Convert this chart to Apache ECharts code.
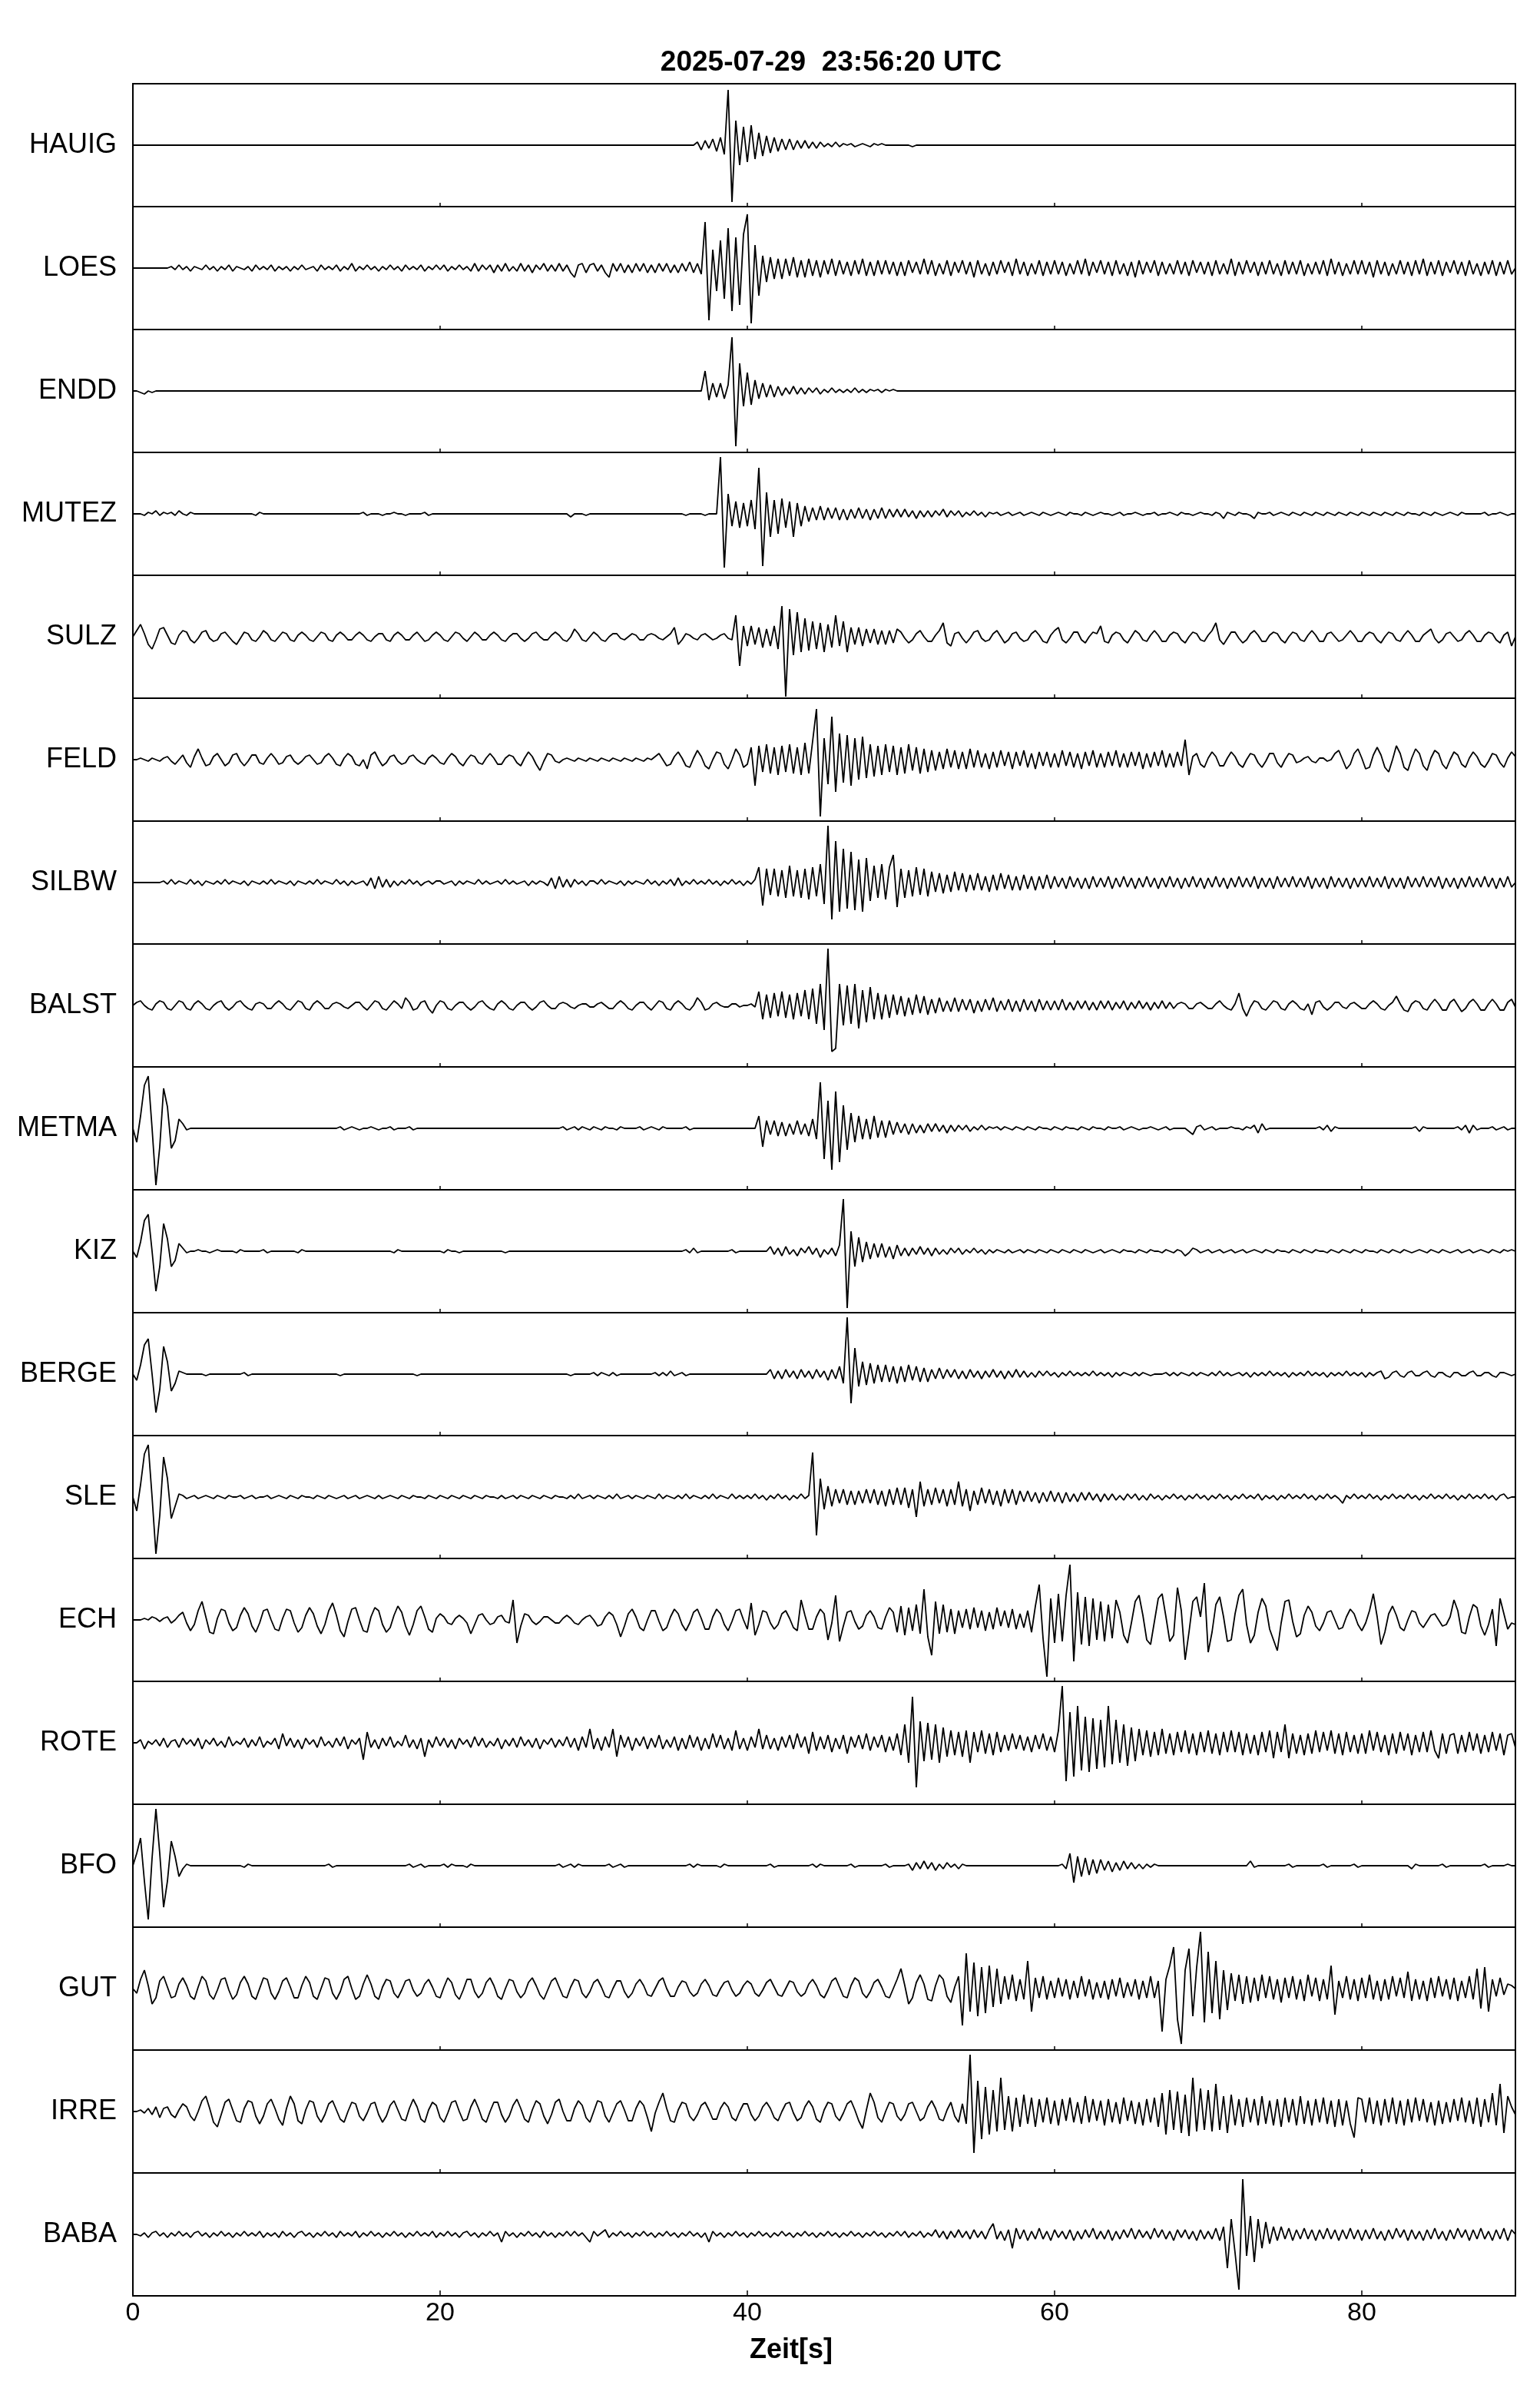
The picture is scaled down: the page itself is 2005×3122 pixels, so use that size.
<!DOCTYPE html>
<html>
<head>
<meta charset="utf-8">
<script src="https://cdn.jsdelivr.net/npm/echarts@6/dist/echarts.min.js"></script>
<style>
html,body{margin:0;padding:0;background:#fff;}
#chart{width:2005px;height:3122px;}
</style>
</head>
<body>
<div id="chart"></div>
<script>
const chartTitle = '2025-07-29  23:56:20 UTC';
const xAxisTitle = 'Zeit[s]';
const stations = ['HAUIG','LOES','ENDD','MUTEZ','SULZ','FELD','SILBW','BALST','METMA','KIZ','BERGE','SLE','ECH','ROTE','BFO','GUT','IRRE','BABA'];
const timeWindow = [0, 90];
const tickLabels = [0, 20, 40, 60, 80];

// amplitudes sampled every 0.25 s, in units of 1/40 of a half panel
const hauig = [
0,0,0,0,0,0,0,0,0,0,0,0,0,0,0,0,0,0,0,0,0,0,0,0,0,0,0,0,0,0,0,0,0,0,0,0,0,0,0,0,
0,0,0,0,0,0,0,0,0,0,0,0,0,0,0,0,0,0,0,0,0,0,0,0,0,0,0,0,0,0,0,0,0,0,0,0,0,0,0,0,
0,0,0,0,0,0,0,0,0,0,0,0,0,0,0,0,0,0,0,0,0,0,0,0,0,0,0,0,0,0,0,0,0,0,0,0,0,0,0,0,
0,0,0,0,0,0,0,0,0,0,0,0,0,0,0,0,0,0,0,0,0,0,0,0,0,0,0,2,-3,3,-2,4,-4,5,-6,36,-37,16,-13,12,
-11,13,-9,8,-7,6,-5,5,-4,4,-3,4,-3,3,-2,3,-2,2,-2,2,-1,1,-1,2,-1,1,0,1,-1,0,1,0,-1,1,0,1,0,0,0,0,
0,0,0,-1,0,0,0,0,0,0,0,0,0,0,0,0,0,0,0,0,0,0,0,0,0,0,0,0,0,0,0,0,0,0,0,0,0,0,0,0,
0,0,0,0,0,0,0,0,0,0,0,0,0,0,0,0,0,0,0,0,0,0,0,0,0,0,0,0,0,0,0,0,0,0,0,0,0,0,0,0,
0,0,0,0,0,0,0,0,0,0,0,0,0,0,0,0,0,0,0,0,0,0,0,0,0,0,0,0,0,0,0,0,0,0,0,0,0,0,0,0,
0,0,0,0,0,0,0,0,0,0,0,0,0,0,0,0,0,0,0,0,0,0,0,0,0,0,0,0,0,0,0,0,0,0,0,0,0,0,0,0,
0];
const loes = [
0,0,0,0,0,0,0,0,0,0,1,-1,2,-1,1,-2,1,0,-1,2,-1,1,-2,1,-1,2,-2,1,0,-1,1,-2,2,-1,1,-1,2,-2,1,-1,
1,-2,1,-1,2,-1,0,1,-2,2,-1,1,-1,2,-2,1,-1,3,-2,1,-1,2,-1,1,-2,1,-1,2,-1,1,-2,2,-1,1,-1,2,-2,1,-1,2,
-1,2,-2,1,-1,2,-1,1,-2,3,-2,2,-1,2,-3,2,-2,3,-2,1,-2,3,-2,2,-3,2,-1,3,-2,2,-2,3,-2,2,-3,-6,2,3,-3,2,
3,-2,2,-3,-6,3,-2,3,-3,2,-3,3,-2,3,-3,2,-3,3,-2,3,-3,2,-3,3,-2,4,-3,3,-4,30,-34,12,-15,18,-20,26,-28,20,-24,22,
35,-36,15,-18,8,-9,7,-7,6,-7,6,-5,7,-6,5,-6,6,-5,5,-6,5,-4,6,-5,5,-4,4,-5,5,-4,6,-5,4,-5,5,-4,5,-4,4,-5,
4,-5,5,-3,4,-4,6,-4,5,-5,3,-4,5,-5,4,-3,5,-4,4,-6,5,-4,3,-5,4,-4,5,-3,4,-5,6,-4,4,-5,3,-4,5,-5,4,-4,
5,-4,4,-5,3,-4,5,-4,6,-5,4,-3,5,-4,4,-5,5,-4,3,-5,4,-6,5,-4,4,-3,5,-5,4,-4,3,-4,5,-4,4,-5,5,-3,4,-4,
4,-5,5,-4,3,-4,6,-5,4,-4,5,-3,4,-5,4,-4,5,-4,3,-5,5,-4,4,-4,5,-5,3,-4,4,-4,5,-5,6,-4,4,-5,3,-4,5,-4,
5,-4,4,-6,5,-4,4,-5,3,-4,5,-4,4,-5,5,-4,6,-5,4,-4,5,-5,4,-3,5,-4,4,-5,5,-4,3,-5,4,-4,5,-5,4,-4,5,-4,
0];
const endd = [
0,0,-1,-2,0,-1,0,0,0,0,0,0,0,0,0,0,0,0,0,0,0,0,0,0,0,0,0,0,0,0,0,0,0,0,0,0,0,0,0,0,
0,0,0,0,0,0,0,0,0,0,0,0,0,0,0,0,0,0,0,0,0,0,0,0,0,0,0,0,0,0,0,0,0,0,0,0,0,0,0,0,
0,0,0,0,0,0,0,0,0,0,0,0,0,0,0,0,0,0,0,0,0,0,0,0,0,0,0,0,0,0,0,0,0,0,0,0,0,0,0,0,
0,0,0,0,0,0,0,0,0,0,0,0,0,0,0,0,0,0,0,0,0,0,0,0,0,0,0,0,0,13,-6,5,-4,5,-5,4,35,-36,18,-10,
12,-9,7,-5,5,-4,4,-4,3,-3,2,-2,3,-2,2,-2,2,-1,2,-2,1,-1,2,-1,1,-1,1,-1,2,-1,1,-1,1,0,1,-1,1,0,1,0,
0,0,0,0,0,0,0,0,0,0,0,0,0,0,0,0,0,0,0,0,0,0,0,0,0,0,0,0,0,0,0,0,0,0,0,0,0,0,0,0,
0,0,0,0,0,0,0,0,0,0,0,0,0,0,0,0,0,0,0,0,0,0,0,0,0,0,0,0,0,0,0,0,0,0,0,0,0,0,0,0,
0,0,0,0,0,0,0,0,0,0,0,0,0,0,0,0,0,0,0,0,0,0,0,0,0,0,0,0,0,0,0,0,0,0,0,0,0,0,0,0,
0,0,0,0,0,0,0,0,0,0,0,0,0,0,0,0,0,0,0,0,0,0,0,0,0,0,0,0,0,0,0,0,0,0,0,0,0,0,0,0,
0];
const mutez = [
0,0,0,-1,1,0,2,-1,1,0,1,-1,2,0,-1,1,0,0,0,0,0,0,0,0,0,0,0,0,0,0,0,0,-1,1,0,0,0,0,0,0,
0,0,0,0,0,0,0,0,0,0,0,0,0,0,0,0,0,0,0,0,1,-1,0,0,0,-1,0,0,1,0,0,-1,0,0,0,0,1,-1,0,0,
0,0,0,0,0,0,0,0,0,0,0,0,0,0,0,0,0,0,0,0,0,0,0,0,0,0,0,0,0,0,0,0,0,0,-2,0,0,0,-1,0,
0,0,0,0,0,0,0,0,0,0,0,0,0,0,0,0,0,0,0,0,0,0,0,0,-1,0,0,0,0,-1,0,0,0,37,-35,13,-8,8,-9,7,
-8,9,-10,30,-34,14,-15,9,-13,10,-9,8,-15,7,-8,5,-5,4,-4,5,-4,4,-3,4,-4,3,-4,3,-3,4,-3,3,-4,3,-3,4,-3,3,-2,3,
-2,3,-2,2,-3,2,-2,2,-2,2,-1,3,-2,2,-1,2,-2,1,-1,2,-1,1,-2,1,0,1,-1,0,1,-1,0,1,-1,0,1,0,-1,1,0,-1,
0,1,0,-1,1,0,0,-1,1,0,-1,0,1,0,0,-1,0,1,-1,0,0,1,0,-1,0,0,1,-1,0,0,1,0,-1,1,0,0,-1,0,1,0,
0,-1,1,0,-3,1,0,-1,1,0,0,-1,-3,1,0,0,1,-1,0,1,0,-1,1,0,-1,1,0,-1,1,0,-1,1,0,-1,1,0,-1,1,0,-1,
1,0,-1,1,0,-1,1,0,-1,1,0,-1,1,0,0,-1,1,0,-1,1,0,-1,0,1,0,-1,1,0,0,0,0,0,1,-1,0,0,1,0,-1,0,
0];
const sulz = [
0,4,8,2,-5,-8,-2,5,6,1,-4,-5,1,4,3,-2,-4,-1,3,4,-1,-3,-2,2,3,0,-3,-5,-1,3,2,-2,-3,0,4,2,-2,-3,0,3,
2,-2,-3,1,3,1,-2,-3,0,3,2,-2,-3,1,3,1,-2,-2,1,3,1,-2,-3,0,2,2,-2,-3,1,3,1,-2,-2,1,3,0,-3,-2,1,3,
1,-2,-3,0,3,2,-1,-3,0,3,1,-2,-2,1,3,1,-2,-3,0,2,2,-1,-3,-1,2,3,0,-2,-2,1,3,1,-2,-3,0,5,2,-2,-3,0,
3,1,-2,-3,0,2,2,-1,-2,0,2,1,-2,-2,1,2,1,-1,-2,0,2,6,-5,-2,2,1,-1,-2,1,2,0,-2,-1,1,2,-1,-2,14,-19,7,
-6,7,-5,6,-7,5,-6,7,-8,20,-39,18,-12,16,-10,12,-9,10,-8,9,-10,8,-7,14,-6,10,-10,6,-5,6,-6,5,-4,5,-5,4,-5,4,-4,5,
3,-1,-4,-2,2,4,0,-3,-3,1,4,9,-4,-6,2,3,-1,-4,-1,3,4,-1,-3,-2,2,4,0,-4,-2,2,3,-1,-3,-2,2,4,1,-3,-4,1,
4,6,-2,-4,-1,3,3,-2,-4,0,3,2,7,-3,-4,1,3,2,-2,-4,0,4,2,-2,-3,1,4,1,-3,-3,1,3,2,-2,-4,0,3,2,-2,-3,
1,4,9,-2,-5,-1,3,3,-1,-4,-2,2,4,1,-3,-3,1,3,2,-2,-4,0,3,2,-2,-3,1,4,1,-3,-3,2,3,0,-3,-2,1,4,1,-3,
-3,1,3,2,-2,-4,0,3,2,-2,-3,1,4,1,-3,-3,1,3,5,-1,-4,-2,2,3,0,-3,-2,2,4,1,-3,-3,1,3,2,-2,-4,1,3,-6,
0];
const feld = [
0,0,1,0,-1,1,0,-1,1,2,-1,-3,0,3,-2,-5,2,7,1,-4,-3,2,4,0,-4,-2,3,4,-1,-4,-1,3,3,-2,-3,1,4,1,-3,-2,
2,3,-1,-3,-1,2,3,0,-3,-2,2,4,1,-3,-4,1,4,2,-3,-4,0,-6,3,5,0,-4,-2,2,3,-1,-3,-2,2,3,0,-2,-3,1,3,1,
-2,-3,1,4,2,-2,-4,0,3,2,-2,-3,1,4,1,-3,-3,1,3,2,-2,-4,1,5,2,-3,-7,-1,4,3,-1,-2,0,1,0,-1,1,0,-1,1,
0,-1,1,0,-1,1,0,-1,1,0,-1,1,0,-1,1,0,2,4,0,-4,-3,2,5,1,-4,-5,1,6,2,-4,-6,0,5,4,-3,-6,0,7,3,-5,
-3,8,-17,9,-8,10,-9,8,-10,9,-8,10,-9,8,-10,11,-9,12,33,-37,14,-16,28,-21,17,-15,16,-17,14,-13,15,-12,10,-11,9,-10,10,-8,9,-10,
8,-9,10,-7,8,-9,7,-8,6,-7,5,-6,7,-5,6,-6,5,-6,7,-5,6,-5,4,-6,5,-5,6,-4,5,-6,5,-4,6,-5,4,-6,5,-4,5,-5,
4,-5,6,-4,5,-5,4,-6,5,-4,6,-5,4,-5,5,-4,6,-5,4,-5,5,-4,5,-6,4,-5,5,-4,6,-5,4,-5,5,-4,13,-10,2,4,-3,-5,
1,5,2,-4,-4,1,5,2,-3,-5,0,4,3,-2,-5,-1,4,4,-2,-5,0,4,3,-2,-1,1,2,-1,-2,1,1,-1,0,4,6,0,-6,-3,4,7,
1,-6,-5,3,8,3,-5,-8,0,9,4,-5,-7,1,7,4,-4,-7,1,6,4,-3,-6,0,5,3,-3,-5,1,5,2,-3,-5,-1,4,3,-2,-5,1,5,
2];
const silbw = [
0,0,0,0,0,0,0,0,1,-1,2,-1,1,0,-1,2,-1,1,-2,1,0,-1,1,-1,2,-1,1,0,-1,1,-2,1,0,-1,1,-1,2,-1,1,0,
-1,1,-2,1,0,-1,1,-1,2,-1,1,0,-1,2,-1,1,-2,1,-1,0,1,-2,3,-4,4,-3,2,-3,1,-2,1,-1,2,-1,1,-2,0,1,-1,1,
1,-1,0,1,-2,1,-1,1,0,-1,2,-1,1,-1,0,1,-1,2,-1,1,-1,0,1,-2,1,-1,1,0,-2,3,-4,4,-3,2,-3,2,-1,1,-2,1,
1,-1,2,-1,1,0,-1,1,-2,1,-1,1,0,-1,2,-1,1,-2,1,-1,2,-2,3,-2,1,-1,2,-1,1,-1,2,-1,1,-2,1,-1,2,-1,1,-2,
1,-1,2,10,-15,9,-8,9,-9,8,-10,11,-9,8,-10,9,-11,10,-9,12,-14,37,-24,27,-19,22,-17,20,-18,15,-19,16,-12,11,-10,12,-11,10,18,-16,
9,-10,8,-9,10,-8,9,-9,7,-6,6,-7,5,-6,7,-5,6,-6,5,-5,6,-5,4,-6,5,-5,6,-4,5,-5,4,-5,5,-4,4,-5,4,-4,5,-4,
4,-3,3,-4,4,-3,3,-4,3,-4,4,-3,3,-3,4,-4,3,-3,4,-3,3,-4,3,-3,4,-3,3,-4,3,-3,4,-3,3,-4,3,-3,4,-3,3,-4,
3,-3,4,-3,3,-4,3,-3,4,-3,3,-3,4,-4,3,-3,3,-4,4,-3,3,-3,4,-3,3,-3,4,-4,3,-3,3,-4,4,-3,3,-3,3,-4,3,-3,
3,-3,4,-3,3,-3,4,-4,3,-3,3,-4,4,-3,3,-3,4,-3,3,-3,4,-4,3,-3,3,-4,3,-3,4,-3,3,-3,4,-3,3,-4,3,-3,4,-3,
0];
const balst = [
0,2,3,0,-2,-3,1,3,2,-2,-3,0,3,2,-2,-3,1,3,1,-2,-3,0,2,3,-1,-3,-1,2,3,0,-2,-3,1,2,1,-2,-2,1,3,1,
-2,-3,0,3,2,-2,-3,1,3,1,-2,-2,1,2,1,-1,-2,0,2,2,-1,-3,0,3,2,-2,-3,0,3,1,-2,5,2,-3,-2,2,3,-2,-5,0,
3,2,-2,-3,0,2,2,-1,-3,-1,2,3,0,-2,-3,1,3,1,-2,-3,0,2,2,-1,-3,-1,2,3,0,-2,-2,1,2,1,-1,-2,0,1,1,-1,
-1,1,2,0,-2,-2,1,3,1,-2,-3,0,2,2,-1,-3,0,3,2,-2,-3,1,3,1,-2,-3,0,5,2,-3,-2,1,2,0,-1,-1,1,1,-1,0,
0,1,-1,9,-9,7,-8,8,-7,9,-8,7,-9,8,-7,10,-9,11,-12,14,-16,37,-30,-28,14,-13,13,-12,14,-15,10,-11,12,-9,8,-9,7,-8,7,-6,
6,-7,5,-6,7,-5,6,-6,4,-5,5,-4,3,-4,5,-4,4,-3,4,-5,3,-4,4,-3,5,-4,3,-3,4,-4,3,-4,4,-3,3,-4,4,-3,3,-3,
3,-3,4,-3,2,-3,3,-2,3,-3,2,-3,3,-2,3,-3,2,-2,3,-3,2,-2,3,-2,2,-3,2,-2,3,-2,2,-2,1,2,1,-2,-2,1,2,0,
-2,-2,1,3,0,-2,-3,1,8,-2,-7,-1,3,2,-2,-3,0,3,2,-2,-3,1,3,1,-2,-3,1,-6,2,3,-1,-3,-1,2,2,-1,-2,1,2,0,
-2,-2,1,3,1,-2,-3,0,2,6,1,-3,-4,1,3,2,-2,-3,1,4,1,-3,-3,2,4,0,-4,-2,2,4,1,-3,-3,1,4,1,-3,-3,2,4,
-1];
const metma = [
0,-9,8,28,34,0,-37,-12,26,14,-13,-8,6,3,-1,0,0,0,0,0,0,0,0,0,0,0,0,0,0,0,0,0,0,0,0,0,0,0,0,0,
0,0,0,0,0,0,0,0,0,0,0,0,0,0,1,-1,0,1,0,-1,0,0,1,0,-1,0,0,1,-1,0,0,0,1,-1,0,0,0,0,0,0,
0,0,0,0,0,0,0,0,0,0,0,0,0,0,0,0,0,0,0,0,0,0,0,0,0,0,0,0,0,0,0,0,1,-1,0,1,-1,1,0,-1,
1,0,-1,1,0,0,-1,1,0,0,0,0,1,-1,0,1,0,-1,1,0,0,0,0,0,1,-1,0,0,0,0,0,0,0,0,0,0,0,0,0,0,
0,0,0,8,-12,5,-4,5,-5,4,-5,3,-4,5,-4,3,-5,6,-7,30,-20,18,-27,24,-22,15,-14,10,-9,8,-7,6,-7,8,-6,5,-6,5,-4,4,
-3,3,-4,3,-3,2,-3,3,-2,3,-2,2,-3,2,-2,2,-1,2,-2,1,-1,2,-1,1,0,1,-1,1,0,-1,1,0,-1,1,0,-1,1,0,0,-1,
1,0,-1,1,0,0,-1,1,0,-1,1,0,0,-1,1,0,0,1,-1,0,1,0,-1,0,0,1,0,-1,0,1,-1,0,0,0,0,-2,-4,1,2,-1,
0,1,-1,0,0,0,1,0,0,-1,1,0,2,-3,3,-1,0,0,0,0,0,0,0,0,0,0,0,0,0,1,-1,2,-2,1,0,0,0,0,0,0,
0,0,0,0,0,0,0,0,0,0,0,0,0,0,1,-2,1,0,0,0,0,0,0,0,0,1,-1,2,-3,2,-1,0,0,0,1,-1,0,1,-1,0,
0];
const kiz = [
0,-4,6,20,24,0,-26,-10,18,8,-10,-6,5,2,-1,0,0,1,0,0,-1,0,1,0,0,0,0,-1,1,0,0,0,0,0,1,-1,0,0,0,0,
0,0,0,-1,1,0,0,0,0,0,0,0,0,0,0,0,0,0,0,0,0,0,0,0,0,0,0,0,-1,1,0,0,0,0,0,0,0,0,0,0,
0,-1,1,0,0,-1,0,0,0,0,0,0,0,0,0,0,0,-1,0,0,0,0,0,0,0,0,0,0,0,0,0,0,0,0,0,0,0,0,0,0,
0,0,0,0,0,0,0,0,0,0,0,0,0,0,0,0,0,0,0,0,0,0,0,0,1,-1,2,-1,0,0,0,0,0,0,0,0,1,-1,0,0,
0,0,0,0,0,0,3,-2,2,-3,3,-2,1,-3,2,-1,3,-2,2,-4,1,-2,2,-3,4,34,-37,13,-10,9,-7,6,-5,5,-4,5,-4,3,-5,4,
-3,2,-3,2,-2,3,-2,2,-3,2,-2,1,-2,2,-1,2,-2,1,-1,2,-1,1,-2,1,-1,1,0,-1,1,-1,0,1,-1,1,0,-1,1,0,-1,1,
0,-1,1,0,-1,1,0,-1,1,0,-1,0,1,-1,0,1,0,-1,1,0,0,-1,1,0,-1,1,0,0,-1,1,0,-1,1,0,-3,-1,2,1,-1,0,
1,-1,0,1,-1,0,1,-1,0,1,-1,0,1,0,-1,1,0,-1,1,0,0,-1,1,0,-1,1,0,-1,1,0,0,-1,1,0,-1,1,0,-1,1,0,
-1,1,0,0,-1,1,0,-1,1,0,-1,1,0,-1,0,1,0,-1,1,0,-1,1,0,-1,0,1,-1,0,1,-1,0,1,0,-1,1,0,-1,1,0,1,
0];
const berge = [
0,-4,6,19,23,0,-25,-10,18,8,-11,-6,2,1,0,0,0,0,0,-1,0,0,0,0,0,0,0,0,0,1,-1,0,0,0,0,0,0,0,0,0,
0,0,0,0,0,0,0,0,0,0,0,0,0,0,-1,0,0,0,0,0,0,0,0,0,0,0,0,0,0,0,0,0,0,0,-1,0,0,0,0,0,
0,0,0,0,0,0,0,0,0,0,0,0,0,0,0,0,0,0,0,0,0,0,0,0,0,0,0,0,0,0,0,0,0,0,-1,0,0,0,0,0,
1,-1,1,0,-1,1,-1,0,0,0,0,0,0,0,0,0,1,-1,1,-1,2,-1,0,1,-1,0,0,0,0,0,0,0,0,0,0,0,0,0,0,0,
0,0,0,0,0,0,3,-3,2,-3,3,-2,2,-3,3,-2,2,-3,3,-2,2,-4,3,-3,5,-6,37,-19,17,-8,8,-7,7,-6,6,-5,6,-5,5,-6,
5,-5,6,-4,5,-5,4,-5,3,-3,4,-3,3,-2,3,-3,2,-3,3,-2,2,-3,2,-2,3,-2,2,-3,2,-2,3,-2,2,-2,1,-2,2,-1,2,-1,
1,-2,1,-1,2,-1,1,-1,1,-1,2,-1,1,-1,1,-2,1,-1,1,0,-1,1,-1,1,0,-1,0,0,0,1,-1,1,-1,1,0,-1,1,-1,1,0,
-1,1,-1,2,-1,1,-1,0,1,-1,1,-2,1,-1,1,-1,2,-1,1,-1,1,-2,1,-1,1,-1,2,-1,1,-1,1,-2,1,-1,1,-1,2,-1,1,-1,
1,-2,1,-1,1,2,-3,-2,1,2,-1,-2,1,2,-1,-1,1,2,-1,-2,1,1,-1,-2,1,1,-1,-1,1,2,-1,-1,1,1,-1,-2,1,1,0,-1,
0];
const sle = [
0,-9,8,28,34,0,-37,-12,26,12,-14,-6,2,1,-1,0,1,-1,0,1,0,-1,1,0,-1,1,0,0,1,-1,0,1,-1,0,0,1,-1,0,1,0,
-1,1,0,-1,1,0,0,-1,1,0,-1,1,0,-1,0,1,-1,0,1,-1,0,1,0,-1,1,-1,0,1,0,-1,1,0,-1,1,0,0,-1,1,0,-1,
1,0,-1,1,0,-1,1,0,-1,1,0,-1,1,0,0,-1,1,-1,0,1,-1,1,0,-1,1,0,-1,1,0,-1,1,0,0,-1,1,-1,2,-1,0,1,
-1,1,0,-1,1,-1,2,-1,0,1,-1,1,0,-1,1,0,-1,2,-1,1,0,-1,1,-1,2,-1,1,0,-1,1,-1,2,-1,1,0,-1,2,-1,1,-1,
1,-1,2,-1,1,-2,1,-1,2,-1,1,-2,1,-1,2,-1,1,29,-25,12,-8,7,-6,5,-4,5,-5,4,-5,4,-4,5,-4,5,-5,4,-6,5,-5,6,
-5,6,-7,5,-13,10,-6,5,-5,6,-4,5,-6,5,-5,10,-6,5,-9,4,-5,6,-4,5,-5,4,-6,5,-4,5,-5,4,-3,4,-3,3,-4,3,-3,4,
-3,3,-4,3,-3,2,-3,3,-2,3,-2,2,-3,2,-2,2,-2,1,-2,2,-1,2,-2,1,-2,2,-1,1,-2,1,-1,2,-1,1,-2,1,-1,2,-1,1,
-2,1,-1,2,-1,1,-2,1,-1,2,-1,1,-1,2,-2,1,-1,1,-2,1,-1,2,-1,1,-1,2,-1,1,-2,1,-1,2,-1,1,-1,-4,1,-1,2,-1,
1,-1,2,-1,1,-2,1,-1,2,-1,1,-1,2,-1,1,-2,1,-1,2,-1,1,-1,2,-1,1,-2,1,-1,2,-1,1,-1,2,-1,1,-2,1,2,-1,0,
0];
const ech = [
0,0,0,1,0,2,1,-1,1,2,-2,0,3,5,-2,-7,-3,6,12,2,-8,-9,1,7,6,-2,-7,-5,3,8,4,-4,-8,-2,6,7,0,-6,-7,1,
7,6,-2,-8,-5,3,8,4,-4,-9,-3,6,11,3,-7,-11,-1,7,8,0,-7,-8,2,8,6,-3,-8,-5,3,9,5,-4,-10,-3,6,9,2,-6,-8,1,
4,2,-2,-3,1,3,1,-2,-9,-3,3,4,0,-3,-2,2,3,-1,-2,13,-15,-4,4,3,-1,-3,-1,2,2,0,-2,-2,1,3,1,-2,-3,0,2,3,
0,-4,-3,2,5,3,-3,-11,-4,4,7,2,-5,-7,0,6,6,-1,-7,-5,2,7,4,-3,-7,-2,5,7,1,-6,-6,2,7,4,-3,-7,-1,6,7,0,
-6,11,-10,-3,6,5,-2,-6,-3,4,6,1,-5,-7,13,3,-6,-6,2,7,4,-13,-2,16,-14,-4,5,6,-1,-6,-4,3,6,2,-5,-6,2,8,5,-8,
9,-10,8,-7,10,-9,20,-11,-23,12,-9,10,-8,7,-9,6,-5,7,-6,8,-5,6,-7,5,-6,8,-4,6,-5,7,-6,4,-5,6,-8,9,23,-12,-37,14,
-15,17,-14,16,36,-27,18,-16,15,-17,14,-13,12,-14,10,-12,13,5,-10,-15,-2,12,16,3,-13,-16,-1,14,17,2,-14,-10,21,6,-26,-8,12,15,2,24,
-21,-8,10,15,2,-14,-13,4,16,20,-3,-15,-10,5,14,9,-6,-13,-20,-2,12,13,-1,-11,-9,3,9,5,-4,-7,-2,5,6,0,-6,-5,2,7,4,-3,
-7,-2,6,17,2,-16,-8,4,9,3,-5,-7,0,6,5,-2,-5,-1,3,4,0,-4,-3,2,13,6,-8,-9,2,10,8,-4,-10,-3,7,-17,14,4,-6,-2,
-3];
const rote = [
0,0,2,-4,1,-1,2,-2,3,-3,1,2,-3,3,-1,2,-2,3,-4,2,-1,3,-2,1,-3,4,-2,1,-1,3,-3,2,-2,4,-3,1,-1,3,-4,6,
-2,3,-3,2,-4,3,-1,2,-3,4,-2,1,-3,3,-2,4,-4,2,-1,3,-11,7,-3,2,-4,3,-2,4,-3,1,-2,5,-3,2,-4,3,-9,2,-3,4,
-2,3,-3,2,-4,3,-1,2,-3,4,-2,3,-3,1,-2,3,-4,2,-2,3,-3,4,-2,2,-3,3,-4,2,-1,3,-3,2,-2,4,-3,3,-5,4,-3,9,
-4,3,-5,4,-3,9,-9,5,-3,4,-5,3,-2,4,-4,3,-3,5,-4,2,-3,4,-5,3,-4,5,-3,4,-5,3,-4,6,-3,5,-4,3,-5,8,-4,3,
-5,4,-3,9,-4,5,-4,3,-5,4,-3,5,-4,6,-3,4,-7,7,-5,4,-4,5,-6,3,-4,5,-7,4,-3,5,-4,6,-5,4,-3,5,-6,4,-5,6,
-8,12,-13,30,-29,14,-12,13,-11,12,-13,10,-9,8,-8,7,-9,8,-13,7,-6,8,-7,6,-8,7,-6,5,-5,6,-4,5,-5,4,-6,5,-4,6,-5,4,
-6,8,37,-25,20,-22,24,-18,17,-19,16,-17,15,-16,24,-14,15,-13,12,-15,10,-12,9,-8,8,-9,7,-8,9,-7,6,-8,7,-6,8,-7,6,-8,7,-6,
8,-7,6,-8,7,-6,8,-6,7,-8,6,-7,5,-8,7,-6,8,-10,7,-6,12,-10,6,-7,5,-8,6,-7,8,-6,7,-5,8,-7,6,-8,7,-6,5,-7,
6,-7,8,-5,7,-6,5,-8,6,-7,7,-5,6,-8,5,-6,7,-6,8,-5,-10,6,-7,5,6,-7,5,-6,7,-5,6,-7,5,-6,7,-5,6,-8,5,6,
-3];
const bfo = [
0,8,18,-10,-35,5,37,8,-27,-10,16,6,-7,-2,1,0,0,0,0,0,0,0,0,0,0,0,0,0,0,-1,1,0,0,0,0,0,0,0,0,0,
0,0,0,0,0,0,0,0,0,0,0,1,-1,0,0,0,0,0,0,0,0,0,0,0,0,0,0,0,0,0,0,0,1,-1,0,1,-1,0,0,0,
0,1,-1,1,0,0,0,-1,1,0,0,0,0,0,0,0,0,0,0,0,0,0,0,0,0,0,0,0,0,0,0,1,-1,0,1,-1,1,0,0,0,
0,0,0,0,1,-1,0,1,-1,0,0,0,0,0,0,0,0,0,0,0,0,0,0,0,0,1,-1,1,0,0,0,0,0,-1,1,0,0,0,0,0,
0,0,0,0,0,0,1,-1,0,0,0,0,0,0,0,0,0,1,-1,1,0,0,0,0,0,0,0,1,-1,0,0,0,0,0,0,0,1,-1,0,0,
0,0,1,-3,2,-2,3,-2,2,-3,1,-2,2,-1,1,-2,1,0,0,0,0,0,0,0,0,0,0,0,0,0,0,0,0,0,0,0,0,0,0,0,
0,0,1,-2,8,-11,6,-7,5,-6,4,-5,4,-3,3,-4,2,-3,3,-2,2,-2,1,-2,1,-1,1,0,0,0,0,0,0,0,0,0,0,0,0,0,
0,0,0,0,0,0,0,0,0,0,0,3,-1,0,0,0,0,0,0,0,0,1,-1,0,0,0,0,0,0,0,1,-1,0,0,0,0,0,0,1,-1,
0,0,0,0,0,0,0,0,0,0,0,0,0,-2,1,0,0,0,0,0,0,1,-1,0,0,0,0,0,0,0,0,0,1,-1,0,0,0,0,1,0,
0];
const gut = [
0,-3,6,12,2,-10,-6,5,8,1,-6,-5,3,7,2,-5,-7,1,8,5,-4,-7,-1,6,7,-1,-7,-4,4,8,3,-5,-7,0,7,6,-3,-7,-2,5,
7,1,-6,-6,2,8,4,-5,-7,0,7,6,-3,-7,-2,6,8,0,-7,-5,3,9,3,-5,-7,1,6,5,-3,-6,-1,5,6,-1,-5,-3,3,6,1,-5,
-6,1,7,4,-4,-7,-1,6,6,-2,-6,-3,4,7,2,-5,-7,0,6,5,-2,-6,-3,4,7,2,-4,-7,-1,5,7,1,-5,-6,1,6,5,-3,-6,-2,
4,6,1,-5,-6,0,5,5,-2,-6,-3,3,6,2,-4,-5,0,5,7,0,-5,-5,1,5,4,-2,-5,-3,3,6,2,-4,-5,0,4,5,-1,-5,-3,2,
5,3,-3,-5,-1,4,6,1,-4,-5,0,5,4,-2,-5,-3,3,6,2,-4,-6,-1,5,7,1,-5,-6,2,7,5,-3,-6,-2,4,6,1,-5,-6,0,6,
13,2,-10,-6,4,9,3,-7,-8,2,9,6,-5,-9,1,8,-24,23,-15,17,-18,14,-16,15,-12,13,-10,8,-7,9,-8,6,-7,18,-15,7,-6,8,-7,5,
-6,7,-5,6,-7,5,-6,8,-5,6,-7,4,-6,5,-7,6,-5,7,-6,4,-5,6,-7,5,-6,8,-6,5,-28,6,15,27,-20,-36,12,26,-18,14,37,-22,
24,-16,18,-20,12,-14,10,-8,9,-10,8,-9,7,-8,9,-6,8,-7,6,-9,7,-6,8,-7,6,-8,9,-5,7,-8,6,-7,15,-17,5,-6,8,-7,6,-8,
7,-6,9,-7,5,-8,6,-7,8,-5,7,-6,11,-8,6,-7,5,-8,7,-6,8,-5,6,-7,7,-8,5,-6,8,-7,13,-13,14,-15,6,-5,7,-4,3,2,
0];
const irre = [
0,0,1,-1,2,-2,3,-4,2,3,-2,-4,1,5,3,-3,-6,0,7,10,2,-7,-10,-2,6,8,1,-6,-7,2,7,6,-3,-8,-3,5,8,2,-5,-9,
2,10,5,-6,-8,1,7,6,-3,-7,-2,5,7,1,-5,-7,0,6,5,-3,-6,-1,5,6,-2,-7,-3,4,7,1,-5,-6,2,8,3,-5,-7,1,6,4,
-4,-7,-1,6,7,0,-6,-5,3,8,2,-5,-7,0,6,6,-2,-7,-3,4,8,2,-5,-7,1,7,5,-3,-8,-2,6,8,0,-6,-6,2,7,4,-4,-7,
0,7,6,-3,-7,-1,5,7,1,-6,-6,2,7,4,-4,-13,-1,6,12,2,-6,-7,1,6,5,-3,-6,-2,4,6,1,-5,-5,2,6,3,-4,-6,0,5,
5,-2,-6,-3,3,6,2,-4,-6,0,5,6,-1,-6,-4,3,7,3,-5,-7,1,6,5,-3,-6,-1,5,7,1,-6,-11,1,12,6,-4,-7,0,6,5,-3,
-6,-2,5,6,0,-6,-4,3,7,2,-5,-6,1,6,-3,-7,5,-8,37,-27,20,-18,16,-15,14,-13,22,-12,10,-13,9,-10,11,-8,9,-10,8,-7,9,-8,
7,-9,8,-6,9,-7,6,-8,10,-7,8,-6,7,-9,8,-7,6,-8,9,-6,7,-8,6,-9,8,-7,9,-10,12,-15,14,-12,13,-14,11,-16,22,-13,15,-12,
14,-13,18,-12,10,-14,11,-9,8,-10,9,-7,8,-9,10,-8,7,-9,8,-10,9,-7,8,-9,10,-8,7,-9,8,-7,9,-8,7,-10,8,-9,7,-8,-17,9,
8,-7,9,-8,7,-9,8,-7,9,-8,7,-9,8,-7,9,-6,8,-7,6,-9,7,-8,6,-7,8,-6,9,-7,7,-8,9,-10,8,-7,12,-9,18,-14,10,3,
-2];
const baba = [
0,0,-1,1,-2,1,2,-1,1,-2,1,-1,2,-1,1,-2,1,2,-1,1,-2,1,-1,2,-1,1,-2,1,-1,2,-1,1,-1,2,-2,1,-1,1,-2,2,
-1,1,-2,1,2,-1,1,-2,1,-1,2,-1,1,-2,2,-1,1,-1,2,-2,1,-1,2,-1,1,-2,1,-1,2,-1,1,-2,1,-1,2,-1,1,-1,2,-2,
1,-1,2,-1,1,-2,1,2,-1,1,-2,1,-1,2,-1,1,-5,2,-1,1,-2,1,-1,2,-1,1,-2,2,-1,1,-2,1,-1,2,-1,2,-1,1,-2,-5,
2,-1,1,3,-2,1,-1,2,-1,1,-2,1,-1,2,-1,1,-2,1,-1,2,-1,1,-2,1,-1,2,-1,1,-2,1,-5,2,-1,1,-2,1,-1,2,-1,1,
-2,1,-1,2,-1,1,-2,1,-1,2,-1,1,-2,1,-1,2,-1,1,-2,1,-1,2,-1,1,-2,1,-1,2,-1,1,-2,1,-1,2,-1,1,-2,1,-1,2,
-1,2,-2,1,-1,2,-2,1,-1,3,-2,2,-3,2,-2,3,-2,2,-3,3,-2,2,-3,3,7,-3,2,-4,3,-9,4,-3,3,-4,2,-3,4,-3,2,-4,
3,-2,2,-3,3,-4,2,-3,3,-2,4,-3,2,-3,3,-4,2,-3,3,-2,4,-3,3,-2,2,-3,4,-2,3,-3,2,-4,3,-2,3,-3,2,-4,3,-3,
2,-3,4,-4,5,-22,10,-12,-36,36,-14,12,-18,10,-9,8,-6,5,-4,5,-3,4,-4,3,-3,4,-3,3,-4,3,-3,4,-3,3,-4,3,-3,4,-3,3,
-4,3,-3,4,-3,2,-4,3,-3,4,-2,3,-4,3,-3,2,-4,3,-3,4,-3,2,-4,3,-3,4,-2,3,-4,3,-3,4,-3,2,-4,3,-3,4,-4,3,
0];

const traces = [hauig, loes, endd, mutez, sulz, feld, silbw, balst, metma, kiz, berge, sle, ech, rote, bfo, gut, irre, baba];

const chart = echarts.init(document.getElementById('chart'), null, {renderer: 'canvas'});
const PLOT_LEFT = 173, PLOT_RIGHT = 32, PLOT_TOP = 109, PANEL_H = 160;
const FONT = '"Liberation Sans", Arial, Helvetica, sans-serif';
const n = stations.length;
const grid = [], xAxis = [], yAxis = [], series = [];
stations.forEach((name, i) => {
  const last = i === n - 1;
  grid.push({left: PLOT_LEFT, right: PLOT_RIGHT, top: PLOT_TOP + i * PANEL_H, height: PANEL_H,
    show: true, borderColor: '#000', borderWidth: 2, backgroundColor: 'transparent', containLabel: false});
  xAxis.push({gridIndex: i, type: 'value', min: timeWindow[0], max: timeWindow[1], interval: 20,
    axisLine: {show: true, onZero: false, lineStyle: {color: '#000', width: 2}},
    axisTick: {show: true, inside: true, length: last ? 7 : 5, lineStyle: {color: '#000', width: 1.5}, customValues: tickLabels.slice(1)},
    axisLabel: {show: last, customValues: tickLabels, color: '#000', fontSize: 34, fontFamily: FONT, margin: 6},
    splitLine: {show: false}});
  yAxis.push({gridIndex: i, type: 'value', min: -40, max: 40,
    axisLine: {show: false}, axisTick: {show: false}, axisLabel: {show: false}, splitLine: {show: false},
    name: name, nameLocation: 'middle', nameRotate: 0, nameGap: 21,
    nameTextStyle: {fontSize: 36, fontFamily: FONT, color: '#000', align: 'right', verticalAlign: 'middle'}});
  const tr = traces[i];
  const dt = (timeWindow[1] - timeWindow[0]) / (tr.length - 1);
  series.push({type: 'line', xAxisIndex: i, yAxisIndex: i, data: tr.map((v, k) => [timeWindow[0] + k * dt, v]),
    showSymbol: false, symbol: 'none', clip: false, silent: true,
    lineStyle: {color: '#000', width: 1.8}});
});
chart.setOption({
  backgroundColor: '#fff',
  animation: false,
  grid, xAxis, yAxis, series,
  graphic: [
    {type: 'text', x: 1082, y: 82, style: {text: chartTitle, font: 'bold 37px ' + FONT, fill: '#000',
      textAlign: 'center', textVerticalAlign: 'middle', align: 'center', verticalAlign: 'middle'}},
    {type: 'text', x: 1030, y: 3060, style: {text: xAxisTitle, font: 'bold 36px ' + FONT, fill: '#000',
      textAlign: 'center', textVerticalAlign: 'middle', align: 'center', verticalAlign: 'middle'}}
  ]
});
</script>
</body>
</html>
